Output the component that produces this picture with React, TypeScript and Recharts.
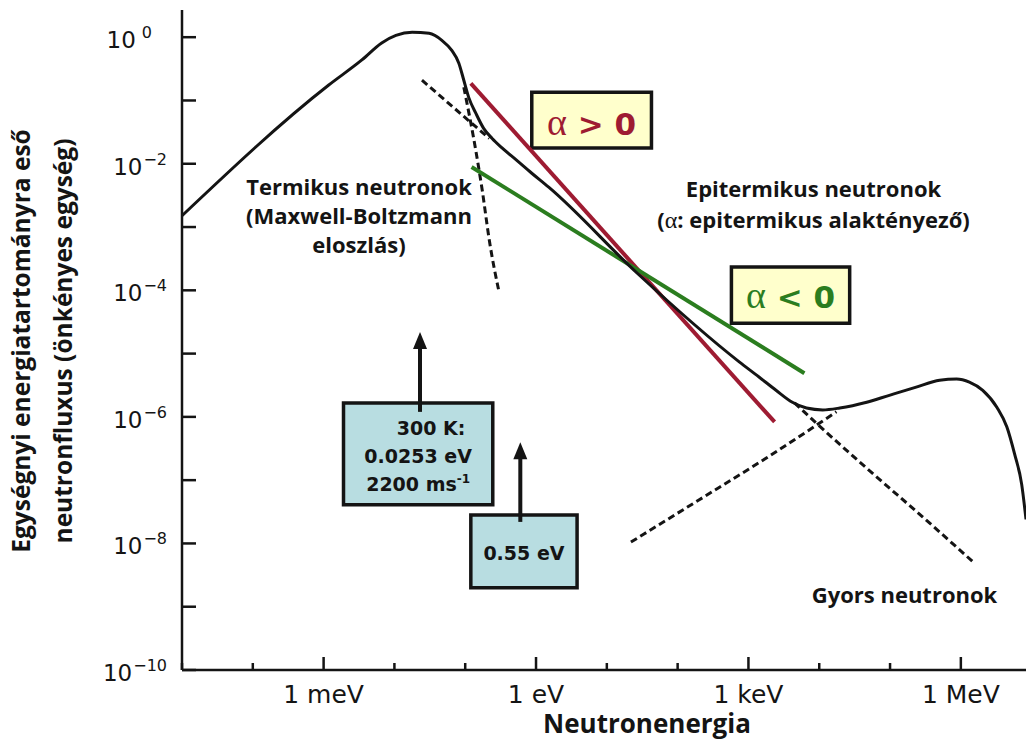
import React from 'react';
import { LineChart, Line, XAxis, YAxis, ReferenceArea, ReferenceLine, ReferenceDot } from 'recharts';

// Neutron spectrum, log-log. Energy in eV, flux per unit energy range (arbitrary units).
const spectrum = [
  { e: 1e-5, f: 1.51e-3 },
  { e: 1.17e-3, f: 0.174 },
  { e: 3.47e-3, f: 0.437 },
  { e: 6.61e-3, f: 0.813 },
  { e: 1.05e-2, f: 1.07 },
  { e: 1.78e-2, f: 1.2 },
  { e: 3.09e-2, f: 1.15 },
  { e: 4.68e-2, f: 0.891 },
  { e: 6.46e-2, f: 0.617 },
  { e: 8.13e-2, f: 0.389 },
  { e: 9.55e-2, f: 0.209 },
  { e: 0.112, f: 0.112 },
  { e: 0.141, f: 0.0631 },
  { e: 0.182, f: 0.0363 },
  { e: 0.24, f: 0.0251 },
  { e: 0.331, f: 0.0178 },
  { e: 0.525, f: 0.0115 },
  { e: 0.871, f: 7.08e-3 },
  { e: 1.51, f: 4.27e-3 },
  { e: 26.9, f: 1.86e-4 },
  { e: 741, f: 7.41e-6 },
  { e: 1410, f: 4.27e-6 },
  { e: 2450, f: 2.63e-6 },
  { e: 4170, f: 1.7e-6 },
  { e: 6610, f: 1.38e-6 },
  { e: 1.12e4, f: 1.29e-6 },
  { e: 1.95e4, f: 1.38e-6 },
  { e: 4.68e4, f: 1.7e-6 },
  { e: 9.77e4, f: 2.19e-6 },
  { e: 2.34e5, f: 2.95e-6 },
  { e: 5.01e5, f: 3.8e-6 },
  { e: 8.71e5, f: 3.98e-6 },
  { e: 1.32e6, f: 3.55e-6 },
  { e: 2.04e6, f: 2.63e-6 },
  { e: 3.24e6, f: 1.41e-6 },
  { e: 4.47e6, f: 6.92e-7 },
  { e: 5.75e6, f: 2.57e-7 },
  { e: 7.24e6, f: 8.5e-8 },
  { e: 8.32e6, f: 2.4e-8 },
];

// dashed components
const maxwellTail = [
  { e: 9.55e-2, f: 0.162 },
  { e: 0.141, f: 0.0162 },
  { e: 0.174, f: 3.8e-3 },
  { e: 0.219, f: 6.17e-4 },
  { e: 0.302, f: 9.12e-5 },
];
const slowingDownLow = [
  { e: 0.0245, f: 0.209 },
  { e: 0.219, f: 0.0251 },
];
const slowingDownHigh = [
  { e: 4470, f: 1.66e-6 },
  { e: 9120, f: 7.94e-7 },
  { e: 5.62e4, f: 1.29e-7 },
  { e: 2.88e5, f: 2.63e-8 },
  { e: 1.48e6, f: 5.13e-9 },
];
const fissionRise = [
  { e: 21.9, f: 1.05e-8 },
  { e: 202, f: 4.9e-8 },
  { e: 1790, f: 2.24e-7 },
  { e: 1.75e4, f: 1.2e-6 },
];

// epithermal shape factor examples
const alphaPositive = [
  { e: 0.12, f: 0.186 },
  { e: 2340, f: 8.32e-7 },
];
const alphaNegative = [
  { e: 0.123, f: 8.91e-3 },
  { e: 6170, f: 4.9e-6 },
];

const energyTicks = [1e-5, 1e-4, 1e-3, 1e-2, 1e-1, 1, 10, 100, 1e3, 1e4, 1e5, 1e6];
const energyLabelExps = [-3, 0, 3, 6];
const energyLabels = ['1 meV', '1 eV', '1 keV', '1 MeV'];
const fluxTicks = [1, 1e-1, 1e-2, 1e-3, 1e-4, 1e-5, 1e-6, 1e-7, 1e-8, 1e-9, 1e-10];

const W = 1026;
const H = 745;
const INK = '#141414';
const SANS = '"DejaVu Sans", Arial, sans-serif';
const TEXT = '"Open Sans", "DejaVu Sans", sans-serif';
const SERIF = '"Liberation Serif", "DejaVu Serif", serif';
const RED = '#9e1b32';
const GREEN = '#2b7d1f';

const XTick = (props: any) => {
  const { x, y, payload } = props;
  const exp = Math.round(Math.log10(payload.value));
  const i = energyLabelExps.indexOf(exp);
  return (
    <g>
      <line x1={x} x2={x} y1={y} y2={y - (i >= 0 ? 13 : 7)} stroke={INK} strokeWidth={2.5} />
      {i >= 0 && (
        <text x={x} y={y + 33} textAnchor="middle" fontFamily={SANS} fontSize={25} fill={INK}>
          {energyLabels[i]}
        </text>
      )}
    </g>
  );
};

const YTick = (props: any) => {
  const { x, y, payload } = props;
  const exp = Math.round(Math.log10(payload.value));
  const labelled = exp % 2 === 0;
  return (
    <g>
      <line x1={x} x2={x + 14} y1={y} y2={y} stroke={INK} strokeWidth={2.5} />
      {labelled && (
        <text x={exp === 0 ? x - 30 : x - 15} y={y + 11} textAnchor="end" fontFamily={SANS} fontSize={23} fill={INK}>
          10
          <tspan dx={exp === 0 ? 6 : 1} dy={-10} fontSize={16}>
            {exp === 0 ? '0' : `\u2212${-exp}`}
          </tspan>
        </text>
      )}
    </g>
  );
};

const YTitle = (props: any) => {
  const { viewBox } = props;
  const cy = viewBox.y + viewBox.height / 2 + 1;
  const style = { fontFamily: TEXT, fontWeight: 700, fontSize: 24.5, fill: INK };
  return (
    <g>
      <text transform={`translate(30, ${cy}) rotate(-90)`} textAnchor="middle" {...style}>
        Egységnyi energiatartományra eső
      </text>
      <text transform={`translate(72, ${cy}) rotate(-90)`} textAnchor="middle" {...style}>
        neutronfluxus (önkényes egység)
      </text>
    </g>
  );
};

const XTitle = (props: any) => {
  const { viewBox } = props;
  return (
    <text x={viewBox.x + 465} y={viewBox.y + 63} textAnchor="middle" fontFamily={TEXT} fontWeight={700} fontSize={26} fill={INK}>
      Neutronenergia
    </text>
  );
};

// multi-line text inside a ReferenceArea box
const BoxLabel = (props: any) => {
  const { viewBox, lines, top, step, size, color } = props;
  const { x, y, width } = viewBox;
  return (
    <g>
      {lines.map((ln: any, i: number) => (
        <text
          key={i}
          x={x + width / 2 + (ln.dx || 0)}
          y={y + top + i * step}
          textAnchor="middle"
          fontFamily={SANS}
          fontWeight={700}
          fontSize={size}
          fill={color}
        >
          {ln.content}
        </text>
      ))}
    </g>
  );
};

const Caption = ({ cx, cy, lines, step }: any) => (
  <g>
    {lines.map((l: any, i: number) => (
      <text key={i} x={cx} y={cy + i * step} textAnchor="middle" fontFamily={TEXT} fontWeight={700} fontSize={22} fill={INK}>
        {l}
      </text>
    ))}
  </g>
);

const ArrowHead = ({ cx, cy }: any) => (
  <polygon points={`${cx},${cy} ${cx - 7},${cy + 17} ${cx + 7},${cy + 17}`} fill={INK} />
);

const alphaGlyph = (
  <tspan fontFamily={SERIF} fontWeight={400} fontSize={38}>
    α
  </tspan>
);

const dashed = { stroke: INK, strokeWidth: 3, strokeDasharray: '7 4' };

export default function App() {
  return (
    <div style={{ position: 'absolute', left: 0, top: 0, width: W, height: H, background: '#fff', overflow: 'hidden' }}>
      <LineChart width={W} height={H} margin={{ top: 10, right: 0, bottom: 0, left: 0 }}>
        <XAxis
          dataKey="e"
          type="number"
          scale="log"
          domain={[1e-5, 8.32e6]}
          allowDataOverflow
          ticks={energyTicks}
          interval={0}
          height={75}
          tickSize={0}
          tickMargin={0}
          tickLine={false}
          tick={<XTick />}
          axisLine={{ stroke: INK, strokeWidth: 2.5 }}
          label={<XTitle />}
        />
        <XAxis
          xAxisId="top"
          orientation="top"
          type="number"
          scale="log"
          domain={[1e-5, 8.32e6]}
          allowDataOverflow
          height={0}
          tick={false}
          tickLine={false}
          axisLine={{ stroke: INK, strokeWidth: 2.5 }}
        />
        <YAxis
          type="number"
          scale="log"
          domain={[1e-10, 2.69]}
          allowDataOverflow
          ticks={fluxTicks}
          interval={0}
          width={182}
          tickSize={0}
          tickMargin={0}
          tickLine={false}
          tick={<YTick />}
          axisLine={{ stroke: INK, strokeWidth: 2.5 }}
          label={<YTitle />}
        />

        {/* annotation boxes */}
        <ReferenceArea
          x1={0.871}
          x2={42.7}
          y1={0.135}
          y2={0.0178}
          fill="#ffffcc"
          fillOpacity={1}
          stroke={INK}
          strokeWidth={3.5}
          ifOverflow="visible"
          label={<BoxLabel lines={[{ content: <>{alphaGlyph}{' > 0'}</> }]} top={43} step={0} size={31} color={RED} />}
        />
        <ReferenceArea
          x1={575}
          x2={2.69e4}
          y1={2.34e-4}
          y2={3.02e-5}
          fill="#ffffcc"
          fillOpacity={1}
          stroke={INK}
          strokeWidth={3.5}
          ifOverflow="visible"
          label={<BoxLabel lines={[{ content: <>{alphaGlyph}{' < 0'}</> }]} top={41} step={0} size={31} color={GREEN} />}
        />
        <ReferenceArea
          x1={1.91e-3}
          x2={0.245}
          y1={1.66e-6}
          y2={4.07e-8}
          fill="#b8dde1"
          fillOpacity={1}
          stroke={INK}
          strokeWidth={3.5}
          ifOverflow="visible"
          label={
            <BoxLabel
              lines={[
                { content: '300 K:', dx: 13 },
                { content: '0.0253 eV' },
                {
                  content: (
                    <>
                      2200 ms
                      <tspan dy={-8} fontSize={12}>
                        -1
                      </tspan>
                    </>
                  ),
                },
              ]}
              top={32}
              step={28}
              size={19}
              color={INK}
            />
          }
        />
        <ReferenceArea
          x1={0.12}
          x2={3.8}
          y1={2.82e-8}
          y2={2.0e-9}
          fill="#b8dde1"
          fillOpacity={1}
          stroke={INK}
          strokeWidth={3.5}
          ifOverflow="visible"
          label={<BoxLabel lines={[{ content: '0.55 eV' }]} top={45} step={0} size={19} color={INK} />}
        />

        {/* arrows marking 0.0253 eV and 0.55 eV */}
        <ReferenceLine segment={[{ x: 0.023, y: 1.2e-6 }, { x: 0.023, y: 1.38e-5 }]} stroke={INK} strokeWidth={4} ifOverflow="visible" />
        <ReferenceDot x={0.023} y={2.19e-5} r={0} ifOverflow="visible" shape={(p: any) => <ArrowHead cx={p.cx} cy={p.cy} />} />
        <ReferenceLine segment={[{ x: 0.6, y: 2.19e-8 }, { x: 0.6, y: 2.51e-7 }]} stroke={INK} strokeWidth={4} ifOverflow="visible" />
        <ReferenceDot x={0.6} y={3.98e-7} r={0} ifOverflow="visible" shape={(p: any) => <ArrowHead cx={p.cx} cy={p.cy} />} />

        {/* region captions */}
        <ReferenceDot
          x={3.16e-3}
          y={3.16e-3}
          r={0}
          shape={(p: any) => (
            <Caption cx={p.cx} cy={p.cy} step={29} lines={['Termikus neutronok', '(Maxwell-Boltzmann', 'eloszlás)']} />
          )}
        />
        <ReferenceDot
          x={8300}
          y={2.95e-3}
          r={0}
          shape={(p: any) => (
            <Caption
              cx={p.cx}
              cy={p.cy}
              step={31}
              lines={[
                'Epitermikus neutronok',
                <>
                  (<tspan fontFamily={SERIF} fontWeight={400} fontSize={24}>α</tspan>: epitermikus alaktényező)
                </>,
              ]}
            />
          )}
        />
        <ReferenceDot
          x={1.6e5}
          y={1.15e-9}
          r={0}
          shape={(p: any) => <Caption cx={p.cx} cy={p.cy} step={0} lines={['Gyors neutronok']} />}
        />

        {/* dashed component curves */}
        <Line data={maxwellTail} dataKey="f" type="monotone" {...dashed} dot={false} isAnimationActive={false} />
        <Line data={slowingDownLow} dataKey="f" type="linear" {...dashed} dot={false} isAnimationActive={false} />
        <Line data={slowingDownHigh} dataKey="f" type="monotone" {...dashed} dot={false} isAnimationActive={false} />
        <Line data={fissionRise} dataKey="f" type="monotone" {...dashed} dot={false} isAnimationActive={false} />

        {/* epithermal alpha lines */}
        <Line data={alphaPositive} dataKey="f" type="linear" stroke={RED} strokeWidth={4} dot={false} isAnimationActive={false} />
        <Line data={alphaNegative} dataKey="f" type="linear" stroke={GREEN} strokeWidth={4} dot={false} isAnimationActive={false} />

        {/* total spectrum */}
        <Line data={spectrum} dataKey="f" type="monotone" stroke={INK} strokeWidth={3} dot={false} isAnimationActive={false} />
      </LineChart>
    </div>
  );
}
